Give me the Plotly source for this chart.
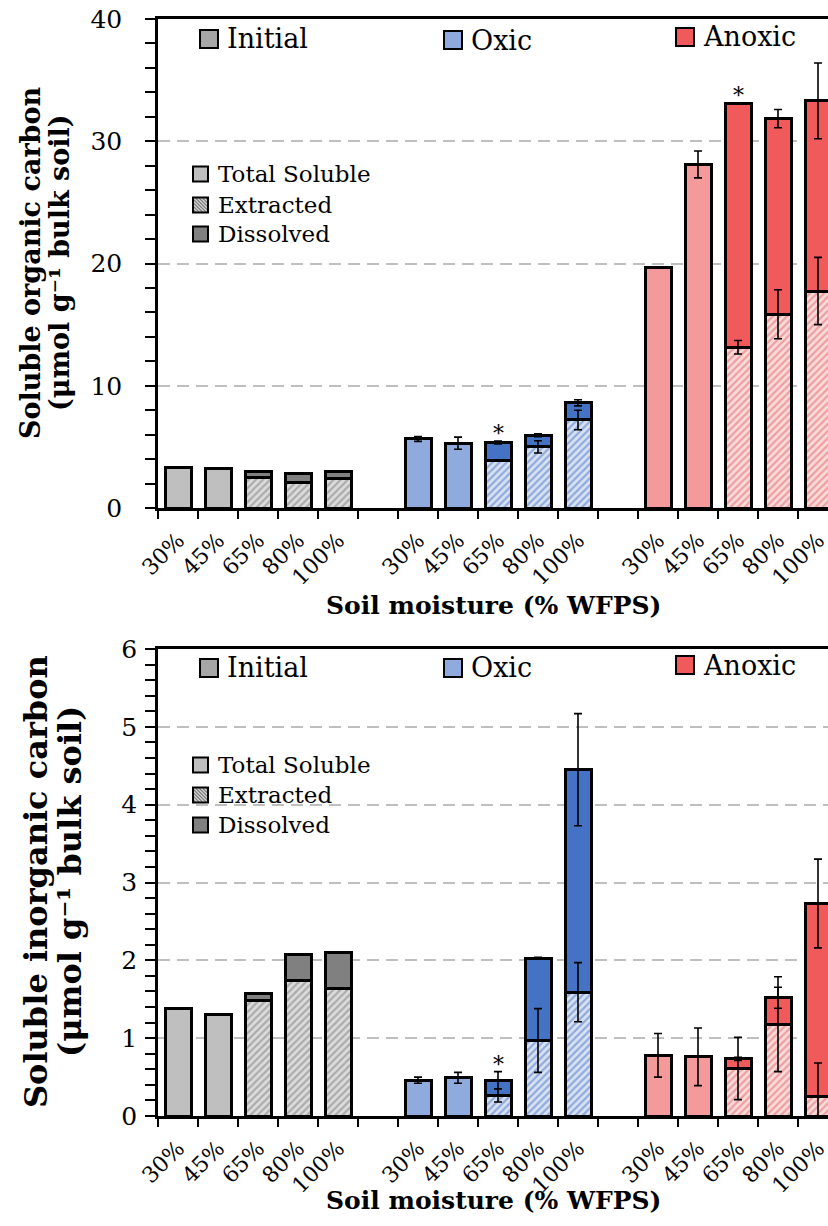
import plotly.graph_objects as go

# ---------------- data ----------------
moisture = ["30%", "45%", "65%", "80%", "100%"]
groups = ["Initial", "Oxic", "Anoxic"]

# Soluble organic carbon (umol g-1 bulk soil)
org_initial_total = [3.3, 3.2, 3.0, 2.85, 2.95]
org_initial_extracted = [None, None, 2.5, 2.1, 2.4]
org_oxic_total = [5.65, 5.3, 5.35, 5.95, 8.6]
org_oxic_total_err = [0.2, 0.5, 0.12, 0.12, 0.25]
org_oxic_extracted = [None, None, 3.9, 5.0, 7.2]
org_oxic_extracted_err = [None, None, 0.0, 0.5, 0.8]
org_anoxic_total = [19.65, 28.1, 33.1, 31.85, 33.3]
org_anoxic_total_err = [0.0, 1.1, 0.05, 0.75, 3.1]
org_anoxic_extracted = [None, None, 13.15, 15.85, 17.75]
org_anoxic_extracted_err = [None, None, 0.55, 2.0, 2.75]

# Soluble inorganic carbon (umol g-1 bulk soil)
inorg_initial_total = [1.38, 1.31, 1.57, 2.07, 2.10]
inorg_initial_extracted = [None, None, 1.48, 1.74, 1.64]
inorg_oxic_total = [0.46, 0.49, 0.46, 2.03, 4.45]
inorg_oxic_total_err = [0.04, 0.07, 0.11, 0.01, 0.72]
inorg_oxic_extracted = [None, None, 0.265, 0.97, 1.59]
inorg_oxic_extracted_err = [None, None, 0.085, 0.41, 0.38]
inorg_anoxic_total = [0.78, 0.76, 0.735, 1.52, 2.73]
inorg_anoxic_total_err = [0.28, 0.37, 0.02, 0.135, 0.57]
inorg_anoxic_extracted = [None, None, 0.61, 1.18, 0.25]
inorg_anoxic_extracted_err = [None, None, 0.40, 0.61, 0.43]

# significance markers (group, moisture)
org_stars = [("Oxic", "65%"), ("Anoxic", "65%")]
inorg_stars = [("Oxic", "65%")]

x_title = "Soil moisture (% WFPS)"
org_title = ["Soluble organic carbon", "(μmol g⁻¹ bulk soil)"]
inorg_title = ["Soluble inorganic carbon", "(μmol g⁻¹ bulk soil)"]

# ---------------- styling ----------------
FONT = "DejaVu Serif"
W, H = 828, 1226
ML, MR, MT, MB = 158, 0, 19, 110
PW, PH = W - ML - MR, H - MT - MB
Y0 = H - MB  # pixel y of paper 0

colors = {
    "Initial": dict(total="#BFBFBF", dissolved="#808080", hbg="#DCDCDC", hfg="#7A7A7A", leg="#A6A6A6"),
    "Oxic": dict(total="#8FAADC", dissolved="#4472C4", hbg="#D9E2F3", hfg="#4472C4", leg="#8FAADC"),
    "Anoxic": dict(total="#F49A9A", dissolved="#F05A5A", hbg="#FBDADA", hfg="#DE6464", leg="#F05A5A"),
}

GROUP_STRIDE = len(moisture) + 1   # one empty slot between groups


def xpos(gi, i):
    return gi * GROUP_STRIDE + i


tick_vals = [xpos(gi, i) for gi in range(len(groups)) for i in range(len(moisture))]
tick_text = [m for _ in groups for m in moisture]
n_slots = GROUP_STRIDE * len(groups) - 1
boundary_vals = [k - 0.5 for k in range(n_slots + 1)]


def px_x(px):
    return (px - ML) / PW


def px_y(py):
    return (Y0 - py) / PH


fig = go.Figure()

panels = [
    dict(xa="x", ya="y",
         total=[org_initial_total, org_oxic_total, org_anoxic_total],
         extracted=[org_initial_extracted, org_oxic_extracted, org_anoxic_extracted],
         total_err=[None, org_oxic_total_err, org_anoxic_total_err],
         extracted_err=[None, org_oxic_extracted_err, org_anoxic_extracted_err],
         stars=org_stars),
    dict(xa="x2", ya="y2",
         total=[inorg_initial_total, inorg_oxic_total, inorg_anoxic_total],
         extracted=[inorg_initial_extracted, inorg_oxic_extracted, inorg_anoxic_extracted],
         total_err=[None, inorg_oxic_total_err, inorg_anoxic_total_err],
         extracted_err=[None, inorg_oxic_extracted_err, inorg_anoxic_extracted_err],
         stars=inorg_stars),
]

BAR_W = 0.65
LINE = dict(color="black", width=3)
annotations = []

for p in panels:
    for gi, g in enumerate(groups):
        c = colors[g]
        xs = [xpos(gi, i) for i in range(len(moisture))]
        tot = p["total"][gi]
        ext = p["extracted"][gi]
        only_idx = [i for i in range(5) if ext[i] is None]
        st_idx = [i for i in range(5) if ext[i] is not None]
        fig.add_trace(go.Bar(
            x=[xs[i] for i in only_idx], y=[tot[i] for i in only_idx],
            xaxis=p["xa"], yaxis=p["ya"], width=BAR_W,
            marker=dict(color=c["total"], line=LINE), showlegend=False,
            name=f"{g} Total Soluble"))
        fig.add_trace(go.Bar(
            x=[xs[i] for i in st_idx], y=[ext[i] for i in st_idx],
            xaxis=p["xa"], yaxis=p["ya"], width=BAR_W,
            marker=dict(color=c["hbg"], line=LINE,
                        pattern=dict(shape="/", bgcolor=c["hbg"], fgcolor=c["hfg"],
                                     size=5, solidity=0.45)),
            showlegend=False, name=f"{g} Extracted"))
        fig.add_trace(go.Bar(
            x=[xs[i] for i in st_idx], y=[tot[i] - ext[i] for i in st_idx],
            xaxis=p["xa"], yaxis=p["ya"], width=BAR_W,
            marker=dict(color=c["dissolved"], line=LINE), showlegend=False,
            name=f"{g} Dissolved"))
        for vals, errs in ((tot, p["total_err"][gi]), (ext, p["extracted_err"][gi])):
            if errs is None:
                continue
            idx = [i for i in range(5) if vals[i] is not None and errs[i]]
            if not idx:
                continue
            fig.add_trace(go.Scatter(
                x=[xs[i] for i in idx], y=[vals[i] for i in idx],
                xaxis=p["xa"], yaxis=p["ya"], mode="markers",
                marker=dict(size=1, color="rgba(0,0,0,0)"), showlegend=False,
                hoverinfo="skip",
                error_y=dict(type="data", array=[errs[i] for i in idx], visible=True,
                             color="black", thickness=1.6, width=4)))
    for g, m in p["stars"]:
        gi = groups.index(g)
        i = moisture.index(m)
        err = p["total_err"][gi][i] or 0
        annotations.append(dict(x=xpos(gi, i), y=p["total"][gi][i] + err,
                                xref=p["xa"], yref=p["ya"], text="*", showarrow=False,
                                yanchor="bottom", yshift=-7,
                                font=dict(family=FONT, size=22, color="black")))

# ---------------- axes ----------------
top_dom = [px_y(508), 1.0]
bot_dom = [0.0, px_y(649)]

xcommon = dict(type="linear", tickmode="array", tickvals=tick_vals, ticktext=tick_text,
               ticks="outside", ticklen=8, tickwidth=2, tickcolor="rgba(0,0,0,0)",
               tickangle=-45, range=[-0.5, 16.25], ticklabeloverflow="allow",
               minor=dict(tickmode="array", tickvals=boundary_vals, ticks="outside",
                          ticklen=8, tickwidth=2, tickcolor="black", showgrid=False),
               showline=True, linecolor="black", linewidth=2.5, mirror=True,
               showgrid=False, zeroline=False,
               tickfont=dict(family=FONT, size=22, color="black"))
ycommon = dict(showline=True, linecolor="black", linewidth=2.5, mirror=False,
               ticks="outside", ticklen=10, tickwidth=1.5, tickcolor="black",
               showgrid=True, gridcolor="#BFBFBF", gridwidth=2, griddash="12px,7px",
               zeroline=False, tickfont=dict(family=FONT, size=25, color="black"))

fig.update_layout(
    xaxis=dict(xcommon, domain=[0, 1], anchor="y"),
    yaxis=dict(ycommon, domain=top_dom, anchor="x", range=[0, 40], dtick=10,
               ticklabelstandoff=18,
               minor=dict(dtick=2, ticks="outside", ticklen=10, tickwidth=1.5,
                          tickcolor="black", showgrid=False)),
    xaxis2=dict(xcommon, domain=[0, 1], anchor="y2"),
    yaxis2=dict(ycommon, domain=bot_dom, anchor="x2", range=[0, 6], dtick=1,
                ticklabelstandoff=3,
                minor=dict(dtick=0.2, ticks="outside", ticklen=10, tickwidth=1.5,
                           tickcolor="black", showgrid=False)),
    barmode="stack",
    width=W, height=H,
    margin=dict(l=ML, r=MR, t=MT, b=MB, pad=0),
    plot_bgcolor="white", paper_bgcolor="white",
    showlegend=False,
    font=dict(family=FONT, color="black"),
)

# ---------------- titles ----------------
ytitle_lines = [
    (org_title[0], 30, 263, 27),
    (org_title[1], 59, 263, 27),
    (inorg_title[0], 36, 882, 32),
    (inorg_title[1], 70, 882, 32),
]
for txt, cx, cy, sz in ytitle_lines:
    annotations.append(dict(text=f"<b>{txt}</b>", x=px_x(cx), y=px_y(cy),
                            xref="paper", yref="paper",
                            textangle=-90, showarrow=False, xanchor="center", yanchor="middle",
                            font=dict(family=FONT, size=sz, color="black")))
for cy in (605, 1200):
    annotations.append(dict(text=f"<b>{x_title}</b>", x=px_x(493), y=px_y(cy),
                            xref="paper", yref="paper", showarrow=False,
                            xanchor="center", yanchor="middle",
                            font=dict(family=FONT, size=25, color="black")))

# ---------------- legends (drawn) ----------------
shapes = []


def box(x0, yc, s, fill):
    shapes.append(dict(type="rect", xref="paper", yref="paper",
                       x0=px_x(x0), x1=px_x(x0 + s), y0=px_y(yc + s / 2), y1=px_y(yc - s / 2),
                       fillcolor=fill, line=dict(color="black", width=2), layer="above"))


def hatch_box(x0, yc, s, bg, fg):
    y0 = yc - s / 2
    shapes.append(dict(type="rect", xref="paper", yref="paper",
                       x0=px_x(x0), x1=px_x(x0 + s), y0=px_y(y0 + s), y1=px_y(y0),
                       fillcolor=bg, line=dict(width=0), layer="above"))
    path = ""
    c = 3
    while c < 2 * s:
        ua, ub = max(0, c - s), min(s, c)
        xa, ya = x0 + ua, y0 + s - (c - ua)
        xb, yb = x0 + ub, y0 + s - (c - ub)
        path += f"M{px_x(xa):.5f},{px_y(ya):.5f}L{px_x(xb):.5f},{px_y(yb):.5f}"
        c += 3.5
    shapes.append(dict(type="path", xref="paper", yref="paper", path=path,
                       line=dict(color=fg, width=1.2), layer="above"))
    shapes.append(dict(type="rect", xref="paper", yref="paper",
                       x0=px_x(x0), x1=px_x(x0 + s), y0=px_y(y0 + s), y1=px_y(y0),
                       fillcolor="rgba(0,0,0,0)", line=dict(color="black", width=2),
                       layer="above"))


def text(x, yc, t, size):
    annotations.append(dict(text=t, x=px_x(x), y=px_y(yc), xref="paper", yref="paper",
                            showarrow=False, xanchor="left", yanchor="middle",
                            font=dict(family=FONT, size=size, color="black")))


group_leg_pos = {"Initial": 200, "Oxic": 444, "Anoxic": 676}
for base, ycs, sub_y in ((0, (39, 40, 37), (174, 205, 234)), (1, (668, 668, 665), (765, 795, 825))):
    shapes.append(dict(type="rect", xref="paper", yref="paper",
                       x0=px_x(168), x1=px_x(388), y0=px_y(sub_y[2] + 16), y1=px_y(sub_y[0] - 16),
                       fillcolor="white", line=dict(width=0), layer="below"))
    for g, yc in zip(groups, ycs):
        x0 = group_leg_pos[g]
        box(x0, yc, 18, colors[g]["leg"])
        text(x0 + 25, yc, g, 27)
    sx = 193
    box(sx, sub_y[0], 15, colors["Initial"]["total"])
    text(sx + 23, sub_y[0], "Total Soluble", 23)
    hatch_box(sx, sub_y[1], 15, colors["Initial"]["hbg"], colors["Initial"]["hfg"])
    text(sx + 23, sub_y[1], "Extracted", 23)
    box(sx, sub_y[2], 15, colors["Initial"]["dissolved"])
    text(sx + 23, sub_y[2], "Dissolved", 23)

fig.update_layout(annotations=annotations, shapes=shapes)
fig.write_html("out.html")
